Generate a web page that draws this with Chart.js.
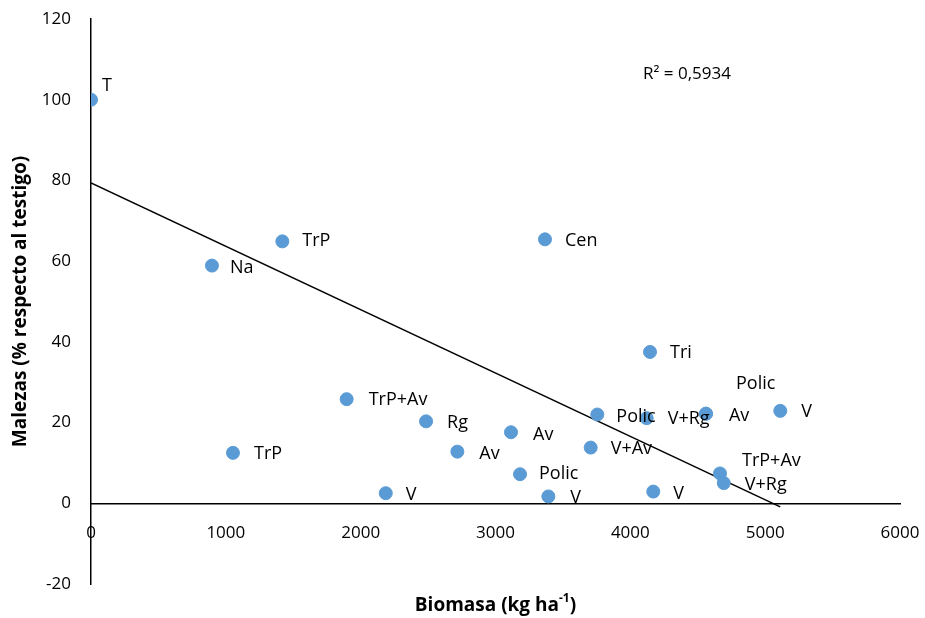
<!DOCTYPE html>
<html>
<head>
<meta charset="utf-8">
<script src="https://cdn.jsdelivr.net/npm/chart.js@4.4.1/dist/chart.umd.min.js"></script>
<style>
  html, body { margin: 0; padding: 0; background: #fff; }
  #wrap { width: 925px; height: 618px; }
</style>
</head>
<body>
<div id="wrap"><canvas id="chart"></canvas></div>
<script>
// data
const pointLabels = ['T', 'Na', 'TrP', 'TrP', 'TrP+Av', 'V', 'Rg', 'Av', 'Av', 'Polic', 'Cen',
  'V', 'V+Av', 'Polic', 'Tri', 'V+Rg', 'V', 'Av', 'Polic', 'V', 'TrP+Av', 'V+Rg']
const biomasa = [0, 897, 1419, 1053, 1896, 2186, 2485, 2717, 3115, 3182, 3367,
  3392, 3706, 3755, 4146, 4121, 4170, 4561, 4561, 5112, 4665, 4693]
const malezas = [100, 58.9, 64.9, 12.5, 25.8, 2.5, 20.3, 12.8, 17.6, 7.2, 65.4,
  1.7, 13.8, 22.0, 37.5, 21.1, 2.9, 22.2, 22.2, 22.9, 7.4, 5.0]

// linear trendline ends
const trendX = [0, 5112]
const trendY = [79.4, -0.9]

const xTicks = [0, 1000, 2000, 3000, 4000, 5000, 6000]
const yTicks = [-20, 0, 20, 40, 60, 80, 100, 120]

const xTitle = 'Biomasa (kg ha'
const xTitleSup = '-1'
const yTitle = 'Malezas (% respecto al testigo)'
const r2Text = 'R² = 0,5934'

// label offsets from point (px) - style only
const labelOffsets = [[11, -14], [18, 2], [20, 0], [21, 1], [22, 1], [20, 2], [21, 2], [22, 2], [22, 3], [19, 0], [20, 2],
  [22, 1], [20, 1], [19, 2], [20, 1], [21, 1], [20, 2], [23, 2], [30, -30], [21, 1], [22, -13], [21, 2]]

const FONT = '"Open Sans", "Liberation Sans", sans-serif'

const extraText = {
  id: 'extraText',
  afterDatasetsDraw(chart) {
    const ctx = chart.ctx
    const meta = chart.getDatasetMeta(0)
    ctx.save()
    ctx.fillStyle = '#000'
    ctx.font = '18px ' + FONT
    ctx.textAlign = 'left'
    ctx.textBaseline = 'middle'
    meta.data.forEach((pt, i) => {
      const off = labelOffsets[i] || [20, 0]
      ctx.fillText(pointLabels[i], pt.x + off[0], pt.y + off[1])
    })

    // R squared
    ctx.font = '17px ' + FONT
    ctx.fillText(r2Text, 643, 74)

    // x title with superscript
    ctx.font = 'bold 19px ' + FONT
    const w1 = ctx.measureText(xTitle).width
    ctx.font = 'bold 12px ' + FONT
    const w2 = ctx.measureText(xTitleSup).width
    ctx.font = 'bold 19px ' + FONT
    const w3 = ctx.measureText(')').width
    const area = chart.chartArea
    let x = (area.left + area.right) / 2 - (w1 + w2 + w3) / 2
    const y = 606
    ctx.fillText(xTitle, x, y)
    x += w1
    ctx.font = 'bold 12px ' + FONT
    ctx.fillText(xTitleSup, x, y - 7)
    x += w2
    ctx.font = 'bold 19px ' + FONT
    ctx.fillText(')', x, y)

    // y title
    ctx.translate(21, (area.top + area.bottom) / 2)
    ctx.rotate(-Math.PI / 2)
    ctx.textAlign = 'center'
    ctx.fillText(yTitle, 0, 0)
    ctx.restore()
  }
}

const ctx = document.getElementById('chart')

new Chart(ctx, {
  type: 'scatter',
  data: {
    datasets: [{
      label: 'Malezas',
      data: biomasa.map((b, i) => ({ x: b, y: malezas[i] })),
      backgroundColor: '#5B9BD5',
      borderColor: '#5B9BD5',
      pointRadius: 6.5,
      pointHoverRadius: 6.5,
      order: 1
    }, {
      label: 'Lineal',
      type: 'line',
      data: trendX.map((t, i) => ({ x: t, y: trendY[i] })),
      borderColor: '#000',
      borderWidth: 1.5,
      pointRadius: 0,
      fill: false,
      order: 2
    }]
  },
  plugins: [extraText],
  options: {
    responsive: true,
    maintainAspectRatio: false,
    animation: false,
    devicePixelRatio: 1,
    layout: { padding: { top: 19, right: 25, bottom: 34, left: 0 } },
    plugins: {
      legend: { display: false },
      tooltip: { enabled: false }
    },
    scales: {
      x: {
        type: 'linear',
        position: { y: 0 },
        min: 0,
        max: 6000,
        afterBuildTicks: (scale) => { scale.ticks = xTicks.map(v => ({ value: v })) },
        afterFit: (scale) => { scale.paddingLeft = 0; scale.paddingRight = 0 },
        grid: { display: true, drawOnChartArea: false, drawTicks: false },
        border: { display: true, color: '#000', width: 1.5 },
        ticks: {
          padding: 20,
          color: '#000',
          font: { family: FONT, size: 17 },
          maxRotation: 0,
          callback: (v) => String(v)
        }
      },
      y: {
        type: 'linear',
        min: -20,
        max: 120,
        afterBuildTicks: (scale) => { scale.ticks = yTicks.map(v => ({ value: v })) },
        afterFit: (scale) => { scale.width = 91; scale.paddingTop = 0; scale.paddingBottom = 0 },
        grid: { display: true, drawOnChartArea: false, drawTicks: false },
        border: { display: true, color: '#000', width: 1.5 },
        ticks: {
          padding: 20,
          color: '#000',
          font: { family: FONT, size: 17 },
          callback: (v) => String(v)
        }
      }
    }
  }
})
</script>
</body>
</html>
